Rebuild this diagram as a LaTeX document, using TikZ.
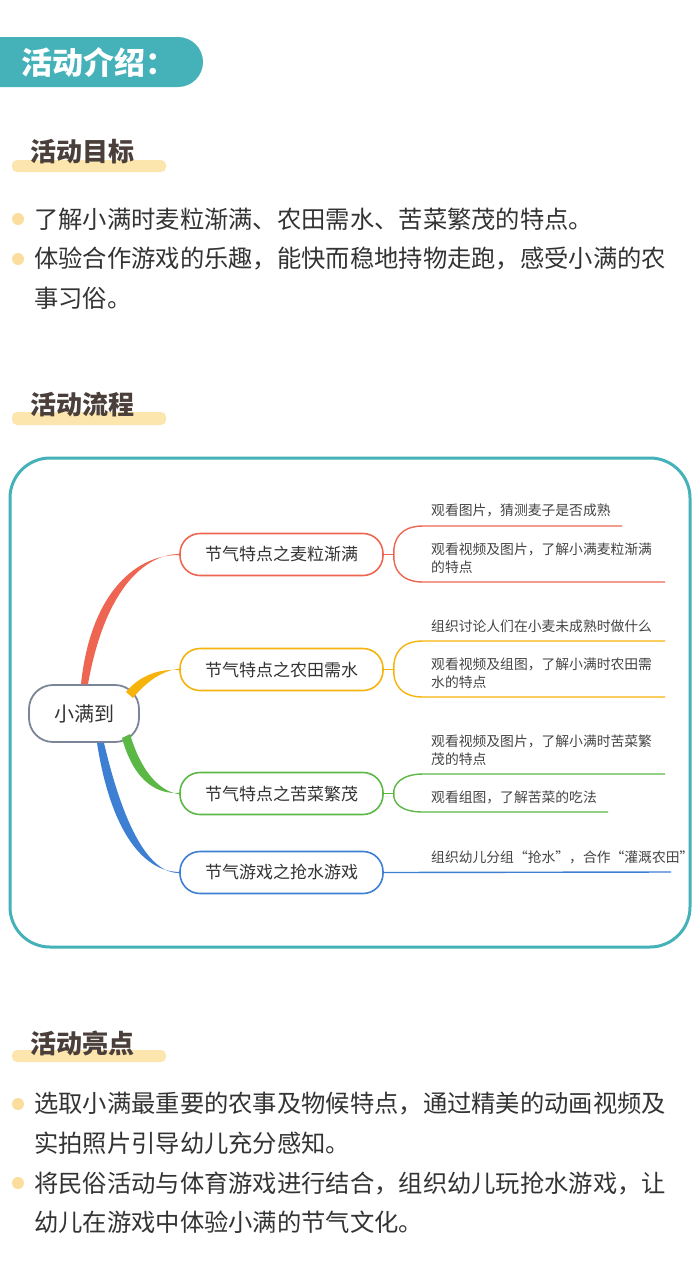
\documentclass[tikz,border=0pt]{standalone}
\usepackage{fontspec}
\setmainfont{Noto Sans CJK SC}
\definecolor{tealA}{HTML}{45B1B9}
\definecolor{barcol}{HTML}{FCE6AE}
\definecolor{dotcol}{HTML}{FBDE9E}
\definecolor{hdcol}{HTML}{4A3F3A}
\definecolor{txcol}{HTML}{333333}
\definecolor{cr}{HTML}{EE6652}
\definecolor{co}{HTML}{F6B30C}
\definecolor{cg}{HTML}{5CB845}
\definecolor{cb}{HTML}{3D7FD2}
\definecolor{rootc}{HTML}{7B8597}
\definecolor{ltcol}{HTML}{444444}
\begin{document}
\begin{tikzpicture}[x=1pt,y=-1pt,
  sec/.style={anchor=west,text=hdcol,font=\fontsize{26}{26}\selectfont\bfseries,inner sep=0},
  body/.style={anchor=west,text=txcol,font=\fontsize{24.3}{25}\selectfont,inner sep=0},
  br/.style={draw=#1,line width=1.6pt,rounded corners=20pt,minimum width=203pt,minimum height=42pt,font=\fontsize{17}{17}\selectfont,text=txcol},
  leaf/.style={anchor=west,text=ltcol,font=\fontsize{13.8}{18}\selectfont,inner sep=0,align=left},
  secbar/.style={fill=barcol,rounded corners=5pt}]
\useasboundingbox (0,0) rectangle (700,1282);
\fill[white] (0,0) rectangle (700,1282);
% header
\fill[tealA,rounded corners=25pt] (-40,37) rectangle (203,87);
\node[anchor=west,text=white,font=\fontsize{31}{31}\selectfont\bfseries,inner sep=0] (h0) at (21,62) {活动介绍：};
% section 1
\path[secbar] (12,160) rectangle (166,172);
\node[sec] (s1) at (30,152) {活动目标};
\fill[dotcol] (18,219) circle (6);
\node[body] (b1) at (34,219) {了解小满时麦粒渐满、农田需水、苦菜繁茂的特点。};
\fill[dotcol] (18,259) circle (6);
\node[body] (b2) at (34,259) {体验合作游戏的乐趣，能快而稳地持物走跑，感受小满的农};
\node[body] (b3) at (34,298) {事习俗。};
% section 2
\path[secbar] (12,412) rectangle (166,425);
\node[sec] (s2) at (30,405) {活动流程};
\draw[tealA,line width=3pt,rounded corners=40pt] (10,458) rectangle (690,947);
% mind map
\node[draw=rootc,line width=1.8pt,rounded corners=24pt,minimum width=110pt,minimum height=57pt,font=\fontsize{20}{20}\selectfont,text=txcol] (root) at (84,713.5) {小满到};
\node[br=cr] (n1) at (281.5,554.5) {节气特点之麦粒渐满};
\node[br=co] (n2) at (281.5,669.5) {节气特点之农田需水};
\node[br=cg] (n3) at (281.5,793.5) {节气特点之苦菜繁茂};
\node[br=cb] (n4) at (281.5,872.5) {节气游戏之抢水游戏};
% branch start points on the root
\coordinate (ro1) at (126,692); \coordinate (ro2) at (133,698);
\coordinate (rg1) at (122,738); \coordinate (rg2) at (130,734);
% branches (tapered)
\fill[cr] ([xshift=-3pt]root.north) .. controls +(10,-95) and +(-40,-1) .. ([yshift=-0.6pt]n1.west) -- ([yshift=0.6pt]n1.west) .. controls +(-38,1) and +(16,-90) .. ([xshift=4pt]root.north) -- cycle;
\fill[co] (ro1) .. controls (140,675) and (160,668.5) .. ([yshift=-0.6pt]n2.west) -- ([yshift=0.6pt]n2.west) .. controls (162,670) and (145,683) .. (ro2) -- cycle;
\fill[cg] (rg1) .. controls (135,785) and (160,794.2) .. ([yshift=0.6pt]n3.west) -- ([yshift=-0.6pt]n3.west) .. controls (162,792) and (142,775) .. (rg2) -- cycle;
\fill[cb] ([xshift=13pt]root.south) .. controls +(14,90) and +(-35,0) .. ([yshift=0.6pt]n4.west) -- ([yshift=-0.6pt]n4.west) .. controls +(-30,0) and +(20,85) .. ([xshift=20pt]root.south) -- cycle;
% leaves red
\coordinate (r1) at (622,526); \coordinate (r2) at (665,582);
\draw[cr,line width=1.4pt] (n1.east) -- +(10,0) coordinate (rj);
\draw[cr,line width=1.4pt] (r1) -- (423,526) .. controls (400,526) and (393,540) .. (rj) .. controls (393,568) and (400,582) .. (423,582) -- (r2);
\node[leaf] (l1) at (431,510) {观看图片，猜测麦子是否成熟};
\node[leaf] (l2) at (431,558) {观看视频及图片，了解小满麦粒渐满\\的特点};
% orange
\coordinate (o1) at (665,641); \coordinate (o2) at (665,697);
\draw[co,line width=1.4pt] (n2.east) -- +(10,0) coordinate (oj);
\draw[co,line width=1.4pt] (o1) -- (423,641) .. controls (400,641) and (393,655) .. (oj) .. controls (393,683) and (400,697) .. (423,697) -- (o2);
\node[leaf] (l3) at (431,626) {组织讨论人们在小麦未成熟时做什么};
\node[leaf] (l4) at (431,673) {观看视频及组图，了解小满时农田需\\水的特点};
% green
\coordinate (g1) at (665,774); \coordinate (g2) at (608,812);
\draw[cg,line width=1.4pt] (n3.east) -- +(10,0) coordinate (gj);
\draw[cg,line width=1.4pt] (g1) -- (423,774) .. controls (401,774) and (393,785) .. (gj) .. controls (393,803) and (401,812) .. (423,812) -- (g2);
\node[leaf] (l5) at (431,750) {观看视频及图片，了解小满时苦菜繁\\茂的特点};
\node[leaf] (l6) at (431,797) {观看组图，了解苦菜的吃法};
% blue
\coordinate (bb) at (671,872);
\draw[cb,line width=1.4pt] (n4.east) -- (bb);
\node[leaf] (l7) at (431,857) {组织幼儿分组“抢水”，合作“灌溉农田”};
% section 3
\path[secbar] (12,1050) rectangle (166,1062);
\node[sec] (s3) at (30,1043) {活动亮点};
\fill[dotcol] (18,1104) circle (6);
\node[body] (c1) at (34,1104) {选取小满最重要的农事及物候特点，通过精美的动画视频及};
\node[body] (c2) at (34,1143) {实拍照片引导幼儿充分感知。};
\fill[dotcol] (18,1183) circle (6);
\node[body] (c3) at (34,1183) {将民俗活动与体育游戏进行结合，组织幼儿玩抢水游戏，让};
\node[body] (c4) at (34,1222) {幼儿在游戏中体验小满的节气文化。};
\end{tikzpicture}
\end{document}
